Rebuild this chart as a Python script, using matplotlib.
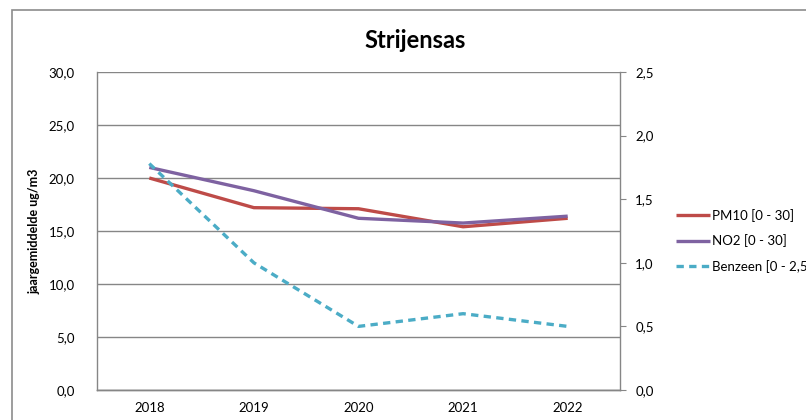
import matplotlib
matplotlib.use("Agg")
import matplotlib.pyplot as plt
from matplotlib.patches import Rectangle
from matplotlib.ticker import FuncFormatter, MultipleLocator

plt.rcParams['font.family'] = ['Lato', 'DejaVu Sans']

years = ['2018', '2019', '2020', '2021', '2022']
pm10 = [20.0, 17.2, 17.1, 15.4, 16.2]
no2 = [21.0, 18.8, 16.2, 15.75, 16.4]
benzeen = [1.78, 1.0, 0.5, 0.6, 0.5]

dpi = 100
fig = plt.figure(figsize=(806 / dpi, 420 / dpi), dpi=dpi)
W, H = 806.0, 420.0

# outer chart frame, running off the right and bottom edge
fig.patches.append(Rectangle((12 / W, -0.1), 1.0, 1.1 - 10 / H, transform=fig.transFigure,
                             fill=False, edgecolor='#8c8c8c', linewidth=1.2))

ax = fig.add_axes([97 / W, 1 - 390 / H, (620 - 97) / W, (390 - 72) / H])
ax2 = ax.twinx()

x = range(len(years))
grey = '#868686'
l1, = ax.plot(x, pm10, color='#BE4B48', lw=2.4, solid_capstyle='butt', label='PM10 [0 - 30]')
l2, = ax.plot(x, no2, color='#7E62A1', lw=2.4, solid_capstyle='butt', label='NO2 [0 - 30]')
l3, = ax2.plot(x, benzeen, color='#4BACC6', lw=2.4, ls=(0, (2.2, 1.6)), label='Benzeen [0 - 2,5]')

ax.set_xlim(-0.5, len(years) - 0.5)
ax.set_ylim(0, 30)
ax2.set_ylim(0, 2.5)
ax.yaxis.set_major_locator(MultipleLocator(5))
ax2.yaxis.set_major_locator(MultipleLocator(0.5))
ax.yaxis.set_major_formatter(FuncFormatter(lambda v, p: f'{v:.1f}'.replace('.', ',')))
ax2.yaxis.set_major_formatter(FuncFormatter(lambda v, p: f'{v:.1f}'.replace('.', ',')))
ax.set_xticks(list(x))
ax.set_xticklabels(years)

ax.grid(axis='y', color=grey, lw=1.0)
ax.set_axisbelow(True)
for a in (ax, ax2):
    for s in a.spines.values():
        s.set_color(grey)
        s.set_linewidth(1.0)
    a.spines['top'].set_visible(False)
ax.spines['right'].set_visible(False)
ax2.spines['left'].set_visible(False)

ax.tick_params(axis='x', length=0, pad=9, labelsize=9.5, colors='#000000')
ax.tick_params(axis='y', length=0, pad=16, labelsize=9.5)
ax2.tick_params(axis='y', length=4, color=grey, pad=7, labelsize=9.5)

ax.set_ylabel('jaargemiddelde ug/m3', fontsize=9, fontweight='bold', labelpad=6)

fig.text(415 / W, 1 - 40 / H, 'Strijensas', ha='center', va='center',
         fontsize=17, fontweight='bold')

fig.legend(handles=[l1, l2, l3], loc='center left', bbox_to_anchor=(664 / W, 1 - 241 / H),
           frameon=False, fontsize=9.5, handlelength=2.6, handletextpad=0.15,
           labelspacing=0.95)

fig.savefig('out.png', dpi=dpi)
